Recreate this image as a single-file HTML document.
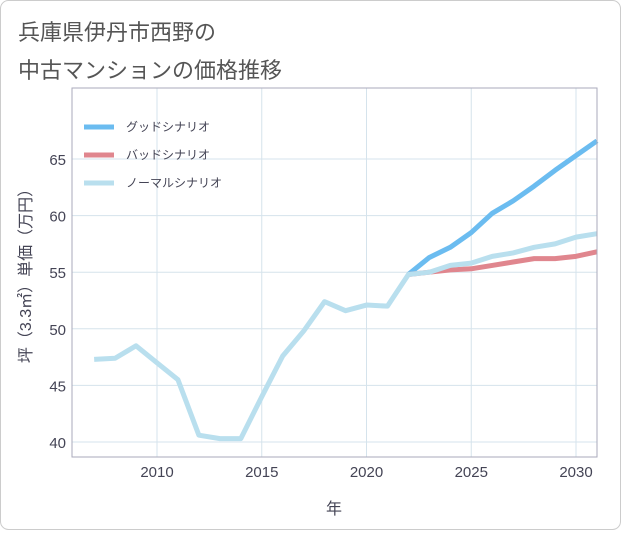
<!DOCTYPE html>
<html><head><meta charset="utf-8"><style>
body{margin:0;background:#fff;font-family:"Liberation Sans","Noto Sans CJK JP",sans-serif;}
#wrap{position:relative;width:621px;height:530px;}
</style></head><body>
<div id="wrap">
<svg id="c" width="621" height="530">
<rect x="0.5" y="0.5" width="620" height="529" rx="8" fill="#fff" stroke="#ccc"/>
<text x="18" y="40" font-size="22" fill="#555">兵庫県伊丹市西野の</text>
<text x="18" y="78" font-size="22" fill="#555">中古マンションの価格推移</text>
<g id="grid"></g><g id="series"></g><g id="axes"></g>
<text x="0" y="0" transform="translate(31,272) rotate(-90)" text-anchor="middle" font-size="16" fill="#445">坪（3.3㎡）単価（万円）</text>
<text x="334" y="514" text-anchor="middle" font-size="16" fill="#445">年</text>
<g>
<line x1="84" y1="127" x2="114" y2="127" stroke="#6bbcf0" stroke-width="5"/>
<text x="126" y="131" font-size="12" fill="#445">グッドシナリオ</text>
<line x1="84" y1="155" x2="114" y2="155" stroke="#e0868e" stroke-width="5"/>
<text x="126" y="159" font-size="12" fill="#445">バッドシナリオ</text>
<line x1="84" y1="183" x2="114" y2="183" stroke="#b9dfee" stroke-width="5"/>
<text x="126" y="187" font-size="12" fill="#445">ノーマルシナリオ</text>
</g>
</svg></div>
<script>
const years=[2007,2008,2009,2010,2011,2012,2013,2014,2015,2016,2017,2018,2019,2020,2021,2022,2023,2024,2025,2026,2027,2028,2029,2030,2031];
const normal=[47.3,47.4,48.5,47.0,45.5,40.6,40.3,40.3,44.0,47.6,49.8,52.4,51.6,52.1,52.0,54.8,55.0,55.6,55.8,56.4,56.7,57.2,57.5,58.1,58.4];
const futureYears=[2022,2023,2024,2025,2026,2027,2028,2029,2030,2031];
const good=[54.8,56.3,57.2,58.5,60.2,61.3,62.6,64.0,65.3,66.6];
const bad=[54.8,55.0,55.2,55.3,55.6,55.9,56.2,56.2,56.4,56.8];
const xTicks=[2010,2015,2020,2025,2030];
const yTicks=[40,45,50,55,60,65];
const L=72,R=597,T=88,B=457;
const x=v=>157+(v-2010)*(576-157)/20;
const y=v=>442-(v-40)*(442-159)/25;
const NS="http://www.w3.org/2000/svg";
function mk(p,t,a){const e=document.createElementNS(NS,t);for(const k in a)e.setAttribute(k,a[k]);p.appendChild(e);return e;}
const g=document.getElementById('grid'),ax=document.getElementById('axes'),s=document.getElementById('series');
xTicks.forEach(t=>{const l=mk(g,'line',{x1:x(t),x2:x(t),y1:T,y2:B,stroke:'#d5e3ec'});


const tx=mk(ax,'text',{x:x(t),y:477,'text-anchor':'middle','font-size':15,fill:'#445'});tx.textContent=t;

});
yTicks.forEach(t=>{const l=mk(g,'line',{x1:L,x2:R,y1:y(t),y2:y(t),stroke:'#d5e3ec'});


const tx=mk(ax,'text',{x:66,y:y(t)+6,'text-anchor':'end','font-size':15,fill:'#445'});tx.textContent=t;

});
const fr=mk(ax,'rect',{x:L,y:T,width:R-L,height:B-T,fill:'none',stroke:'#aab'});


function line(xs,vs,c,n){const p=mk(s,'polyline',{points:xs.map((v,i)=>x(v)+','+y(vs[i])).join(' '),fill:'none',stroke:c,'stroke-width':5,'stroke-linejoin':'round'});

}
line(futureYears,good,'#6bbcf0','good-scenario-line');
line(futureYears,bad,'#e0868e','bad-scenario-line');
line(years,normal,'#b9dfee','normal-scenario-line');
</script></body></html>
